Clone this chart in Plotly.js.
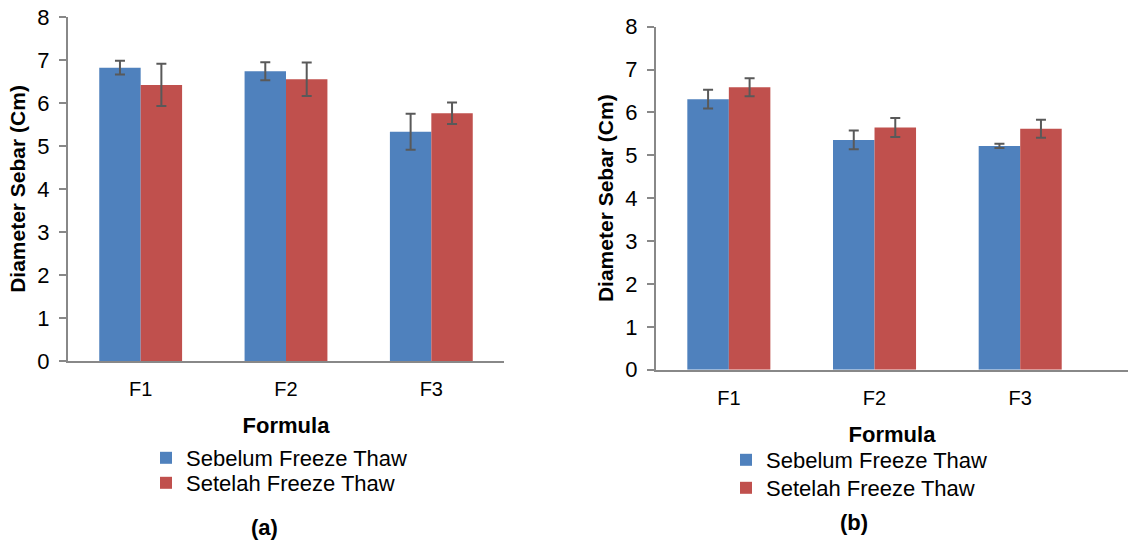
<!DOCTYPE html>
<html>
<head>
<meta charset="utf-8">
<script src="https://cdn.plot.ly/plotly-3.0.1.min.js"></script>
<style>html,body{margin:0;padding:0;background:#fff;}#chart{width:1130px;height:540px;}</style>
</head>
<body>
<div id="chart"></div>
<script>
// ---- data ----
const categories = ['F1', 'F2', 'F3'];
const seriesNames = ['Sebelum Freeze Thaw', 'Setelah Freeze Thaw'];
// Panel (a)
const aBefore = [6.82, 6.74, 5.33];
const aBeforeErr = [0.16, 0.21, 0.42];
const aAfter = [6.42, 6.55, 5.76];
const aAfterErr = [0.49, 0.39, 0.25];
// Panel (b)
const bBefore = [6.31, 5.36, 5.22];
const bBeforeErr = [0.22, 0.22, 0.05];
const bAfter = [6.59, 5.65, 5.62];
const bAfterErr = [0.21, 0.22, 0.21];
const yTicks = [0, 1, 2, 3, 4, 5, 6, 7, 8];
const panelLabels = ['(a)', '(b)'];

const FONT = '"Liberation Sans", Arial, sans-serif';
const BLUE = '#4F81BD', RED = '#C0504D', ERR = '#595959', AX = '#888888';
const W = 1130, H = 540;

function bar(name, y, err, color, xa, ya, leg) {
  return {
    type: 'bar', name: name, x: categories, y: y,
    xaxis: xa, yaxis: ya, legend: leg,
    marker: {color: color, line: {width: 0}},
    error_y: {type: 'data', array: err, visible: true, color: ERR, thickness: 2, width: 5},
    hoverinfo: 'x+y'
  };
}

const data = [
  bar(seriesNames[0], aBefore, aBeforeErr, BLUE, 'x', 'y', 'legend'),
  bar(seriesNames[1], aAfter, aAfterErr, RED, 'x', 'y', 'legend2'),
  bar(seriesNames[0], bBefore, bBeforeErr, BLUE, 'x2', 'y2', 'legend3'),
  bar(seriesNames[1], bAfter, bAfterErr, RED, 'x2', 'y2', 'legend4')
];

function xAxis(domain, range, anchor) {
  return {
    domain: domain, anchor: anchor, type: 'category', range: range,
    showline: true, linecolor: AX, linewidth: 2, showgrid: false, zeroline: false,
    ticks: 'outside', ticklen: 9, tickcolor: 'rgba(0,0,0,0)',
    tickfont: {family: FONT, size: 20, color: '#000'},
    title: {text: 'Formula', font: {family: FONT, size: 22, color: '#000', weight: 'bold'}, standoff: 19},
    automargin: false, fixedrange: true
  };
}
function yAxis(domain, anchor) {
  return {
    domain: domain, anchor: anchor, range: [0, 8], tickvals: yTicks,
    showline: true, linecolor: AX, linewidth: 2, showgrid: false, zeroline: false,
    ticks: 'outside', ticklen: 7, tickcolor: AX, tickwidth: 2, ticklabelstandoff: 5,
    tickfont: {family: FONT, size: 22, color: '#000'},
    title: {text: 'Diameter Sebar (Cm)', font: {family: FONT, size: 21, color: '#000', weight: 'bold'}, standoff: 6},
    automargin: false, fixedrange: true
  };
}
function leg(xpx, ypx) {
  return {
    x: xpx / W, xanchor: 'left', y: (H - ypx) / H, yanchor: 'middle',
    font: {family: FONT, size: 22, color: '#000'}, bgcolor: 'rgba(0,0,0,0)',
    itemclick: false, itemdoubleclick: false
  };
}

const layout = {
  width: W, height: H,
  margin: {l: 0, r: 0, t: 0, b: 0},
  paper_bgcolor: '#fff', plot_bgcolor: '#fff',
  barmode: 'group', bargap: 0.43, bargroupgap: 0,
  font: {family: FONT, color: '#000'},
  xaxis: xAxis([68 / W, 504 / W], [-0.5, 2.5], 'y'),
  yaxis: yAxis([(H - 361) / H, (H - 17) / H], 'x'),
  xaxis2: xAxis([656 / W, 1128 / W], [-0.5, 2.74], 'y2'),
  yaxis2: yAxis([(H - 369.7) / H, (H - 26.7) / H], 'x2'),
  legend: leg(146, 458),
  legend2: leg(146, 483),
  legend3: leg(726, 460),
  legend4: leg(726, 488),
  annotations: [
    {text: panelLabels[0], xref: 'paper', yref: 'paper', x: 264 / W, y: (H - 527) / H,
     xanchor: 'center', yanchor: 'middle', showarrow: false,
     font: {family: FONT, size: 22, color: '#000', weight: 'bold'}},
    {text: panelLabels[1], xref: 'paper', yref: 'paper', x: 854 / W, y: (H - 522) / H,
     xanchor: 'center', yanchor: 'middle', showarrow: false,
     font: {family: FONT, size: 22, color: '#000', weight: 'bold'}}
  ],
  showlegend: true
};

Plotly.newPlot('chart', data, layout, {displayModeBar: false, staticPlot: true});
</script>
</body>
</html>
